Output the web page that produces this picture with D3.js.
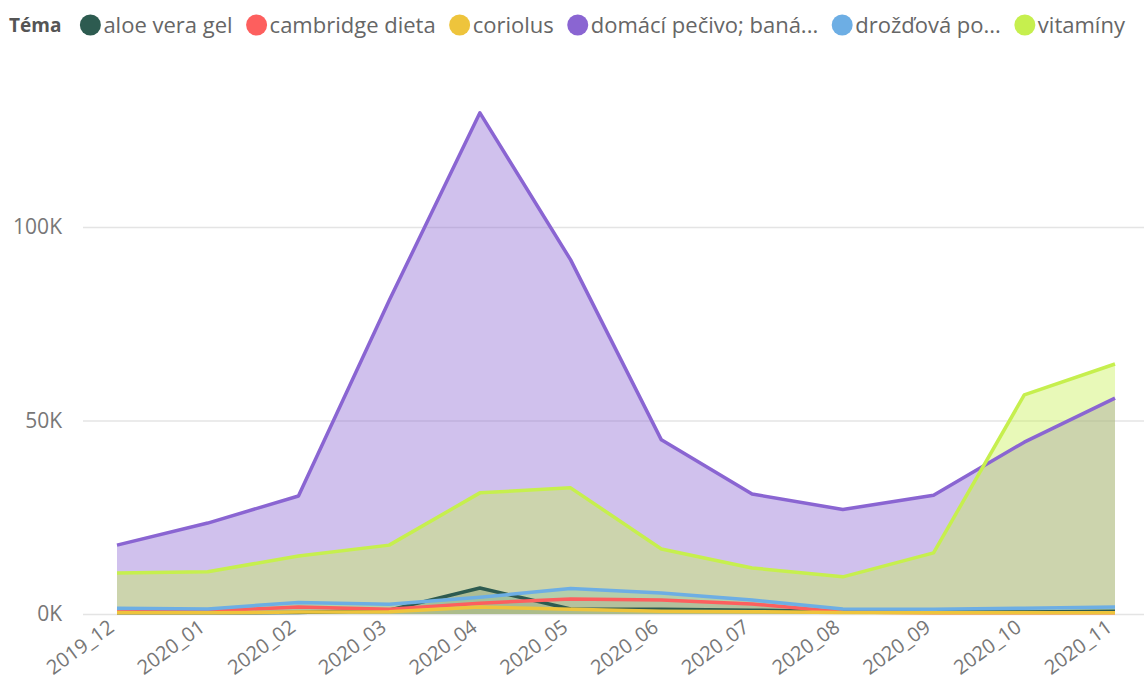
<!DOCTYPE html>
<html>
<head>
<meta charset="utf-8">
<script src="https://cdn.jsdelivr.net/npm/d3@7"></script>
<style>
  body { margin: 0; background: #fff; }
  svg { display: block; font-family: "Segoe UI", "Open Sans", sans-serif; }
</style>
</head>
<body>
<div id="chart"></div>
<script>
// months on the x axis
const months = ["2019_12", "2020_01", "2020_02", "2020_03", "2020_04", "2020_05",
  "2020_06", "2020_07", "2020_08", "2020_09", "2020_10", "2020_11"];

// series values
const aloeVera = [300, 300, 400, 1000, 6700, 1300, 1200, 1000, 600, 500, 500, 700];
const cambridge = [500, 800, 1800, 1200, 2800, 3900, 3600, 2600, 500, 300, 300, 300];
const coriolus = [300, 300, 500, 600, 1800, 1200, 700, 600, 400, 300, 300, 300];
const pecivo = [17800, 23500, 30500, 81000, 129500, 91500, 45000, 31000, 27000, 30700, 44400, 55800];
const drozdova = [1500, 1300, 3000, 2500, 4300, 6600, 5400, 3600, 1300, 1200, 1500, 1800];
const vitaminy = [10600, 10900, 15000, 17800, 31300, 32600, 16800, 11900, 9600, 15800, 56600, 64600];

const seriesNames = ["aloe vera gel", "cambridge dieta", "coriolus",
  "domácí pečivo; baná...", "drožďová po...", "vitamíny"];
const seriesColors = ["#2D5B50", "#FD5F5E", "#EEC43C", "#8A65D2", "#6DAEE4", "#C6EF4E"];
const seriesValues = [aloeVera, cambridge, coriolus, pecivo, drozdova, vitaminy];

const yTicks = [0, 50000, 100000];

const width = 1144, height = 682;
const fontFamily = "\"Segoe UI\", \"Open Sans\", sans-serif";
const svg = d3.select("#chart").append("svg")
  .attr("width", width)
  .attr("height", height);

// scales
const x = d3.scalePoint().domain(months).range([117, 1115]);
const y = d3.scaleLinear().domain([0, 100000]).range([614, 227]);

// gridlines
svg.append("g")
  .attr("transform", "translate(83,0)")
  .call(d3.axisLeft(y).tickValues(yTicks).tickSize(-(width - 83)).tickFormat(""))
  .call(g => g.select(".domain").remove())
  .call(g => g.selectAll("line").attr("stroke", "#e4e4e4").attr("stroke-width", 1.5));

// y axis labels
svg.append("g")
  .attr("transform", "translate(62,0)")
  .call(d3.axisLeft(y).tickValues(yTicks).tickSize(0).tickPadding(0)
    .tickFormat(d => (d / 1000) + "K"))
  .call(g => g.select(".domain").remove())
  .call(g => g.selectAll("text")
    .attr("fill", "#777")
    .style("font-size", "21px")
    .style("font-family", fontFamily));

// x axis labels
svg.append("g")
  .attr("transform", "translate(0,614)")
  .call(d3.axisBottom(x).tickSize(0).tickPadding(0))
  .call(g => g.select(".domain").remove())
  .call(g => g.selectAll("text")
    .attr("fill", "#777")
    .attr("text-anchor", "end")
    .attr("y", 0)
    .attr("dy", 0)
    .attr("transform", "translate(-2,16) rotate(-36)")
    .style("font-size", "20px")
    .style("font-family", fontFamily));

const area = d3.area()
  .x((d, i) => x(months[i]))
  .y0(y(0))
  .y1(d => y(d));

const line = d3.line()
  .x((d, i) => x(months[i]))
  .y(d => y(d));

// areas first, lines on top
svg.append("g").selectAll("path")
  .data(seriesValues)
  .join("path")
  .attr("d", area)
  .attr("fill", (d, i) => seriesColors[i])
  .attr("fill-opacity", 0.4);

svg.append("g").selectAll("path")
  .data(seriesValues)
  .join("path")
  .attr("d", line)
  .attr("fill", "none")
  .attr("stroke", (d, i) => seriesColors[i])
  .attr("stroke-width", 3.5)
  .attr("stroke-linejoin", "round");

// legend
const legend = svg.append("g").attr("transform", "translate(0,25)");
const title = legend.append("text")
  .attr("x", 9)
  .attr("y", 7)
  .attr("fill", "#555")
  .style("font-size", "19px")
  .style("font-weight", "bold")
  .text("Téma");

let lx = 9 + title.node().getComputedTextLength() + 18;
seriesNames.forEach((name, i) => {
  legend.append("circle")
    .attr("cx", lx + 11)
    .attr("cy", 0)
    .attr("r", 10.5)
    .attr("fill", seriesColors[i]);
  const t = legend.append("text")
    .attr("x", lx + 24)
    .attr("y", 8)
    .attr("fill", "#666")
    .style("font-size", "22px")
    .text(name);
  lx += 24 + t.node().getComputedTextLength() + 13;
});
</script>
</body>
</html>
